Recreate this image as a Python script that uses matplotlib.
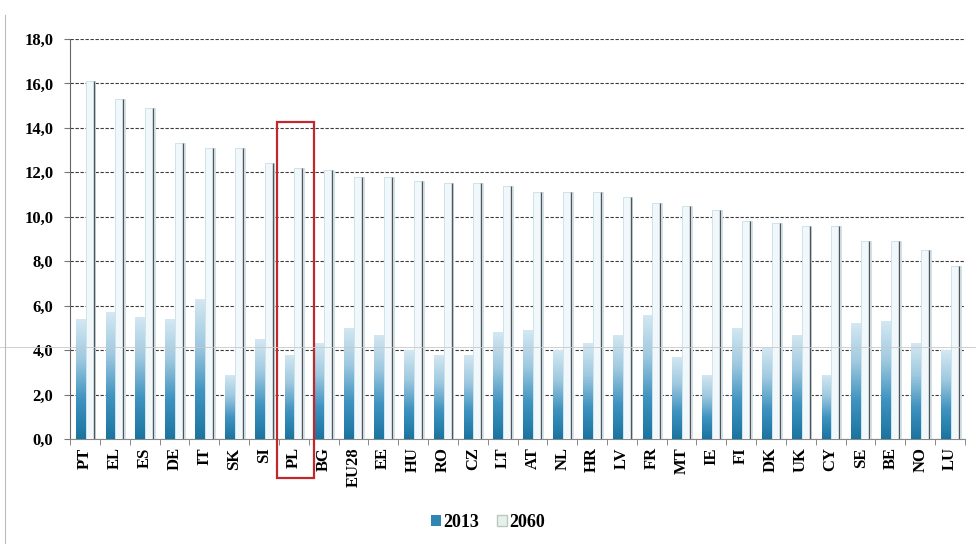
import numpy as np
import matplotlib
matplotlib.use('Agg')
import matplotlib.pyplot as plt
from matplotlib.patches import Rectangle, Patch
from matplotlib.lines import Line2D

# ---------------------------------------------------------------- data
countries = ['PT', 'EL', 'ES', 'DE', 'IT', 'SK', 'SI', 'PL', 'BG', 'EU28',
             'EE', 'HU', 'RO', 'CZ', 'LT', 'AT', 'NL', 'HR', 'LV', 'FR',
             'MT', 'IE', 'FI', 'DK', 'UK', 'CY', 'SE', 'BE', 'NO', 'LU']
val_2013 = [5.4, 5.7, 5.5, 5.4, 6.3, 2.9, 4.5, 3.8, 4.3, 5.0,
            4.7, 4.0, 3.8, 3.8, 4.8, 4.9, 4.0, 4.3, 4.7, 5.6,
            3.7, 2.9, 5.0, 4.1, 4.7, 2.9, 5.2, 5.3, 4.3, 4.0]
val_2060 = [16.1, 15.3, 14.9, 13.3, 13.1, 13.1, 12.4, 12.2, 12.1, 11.8,
            11.8, 11.6, 11.5, 11.5, 11.4, 11.1, 11.1, 11.1, 10.9, 10.6,
            10.5, 10.3, 9.8, 9.7, 9.6, 9.6, 8.9, 8.9, 8.5, 7.8]
series_names = ['2013', '2060']
highlight = 'PL'
y_ticks = np.arange(0, 18.1, 2)

# ---------------------------------------------------------------- plot
plt.rcParams['font.family'] = ['Liberation Serif', 'DejaVu Serif']
plt.rcParams['font.weight'] = 'bold'

fig = plt.figure(figsize=(9.76, 5.44), dpi=100)
ax = fig.add_axes([70 / 976, 105 / 544, 895 / 976, 400 / 544])

x = np.arange(len(countries))
w = 0.33

# gradient for 2013 bars (dark at the base, pale at the top)
cmap = matplotlib.colors.LinearSegmentedColormap.from_list(
    'blu', ['#1a74a0', '#3f93c0', '#9fc9e0', '#d4e8f2'])
grad = np.linspace(0, 1, 256).reshape(-1, 1)

for xi, v in zip(x, val_2013):
    bar = ax.bar(xi - w / 2 + 0.02, v, width=w, color='none', zorder=3)[0]
    im = ax.imshow(grad, cmap=cmap, aspect='auto', origin='lower',
                   extent=[xi - w + 0.02, xi + 0.02, 0, v], zorder=3)
    im.set_clip_path(bar)

ax.bar(x + w / 2 + 0.02, val_2060, width=w, color='#f1f8fb',
       edgecolor='#cfe2ea', linewidth=0.7, zorder=3)
ax.vlines(x + w - 0.04, 0, val_2060, color='#4f5558', linewidth=1.0, zorder=4)

ax.set_xlim(-0.5, len(countries) - 0.5)
ax.set_ylim(0, 18)
ax.set_yticks(y_ticks)
ax.set_yticklabels([('%.1f' % t).replace('.', ',') for t in y_ticks], fontsize=12)
ax.set_xticks(x)
ax.set_xticklabels(countries, rotation=90, fontsize=12)
ax.tick_params(axis='x', length=0, pad=6)
ax.set_xticks(np.arange(-0.5, len(countries), 1), minor=True)
ax.tick_params(axis='x', which='minor', length=4, color='#777')
ax.tick_params(axis='y', length=4, color='#777', pad=8)

ax.grid(axis='y', linestyle=(0, (3, 1.5)), color='#3c3c3c', linewidth=0.8, zorder=0)
ax.set_axisbelow(True)
for s in ['top', 'right']:
    ax.spines[s].set_visible(False)
ax.spines['left'].set_color('#666')
ax.spines['bottom'].set_color('#888')

# red box around highlighted country
i = countries.index(highlight)
ax.add_patch(Rectangle((i - 0.56, -1.76), 1.24, 14.25 + 1.76, fill=False,
                       edgecolor='#c0282d', linewidth=1.6, clip_on=False, zorder=6))

# legend
handles = [Patch(facecolor='#2f86b3', edgecolor='none'),
           Patch(facecolor='#e6f1ec', edgecolor='#b9c9c2')]
fig.legend(handles, series_names, loc='center', bbox_to_anchor=(0.5, 0.04),
           ncol=2, frameon=False, fontsize=13, handlelength=0.55,
           handleheight=0.55, handletextpad=0.1, columnspacing=1.0)

# scan artefacts
fig.add_artist(Line2D([0, 1], [1 - 347 / 544] * 2, color='#c8c8c8', linewidth=0.6))
fig.add_artist(Line2D([5 / 976] * 2, [0, 1 - 15 / 544], color='#bbbbbb', linewidth=0.8))

fig.savefig('out.png', dpi=100)
